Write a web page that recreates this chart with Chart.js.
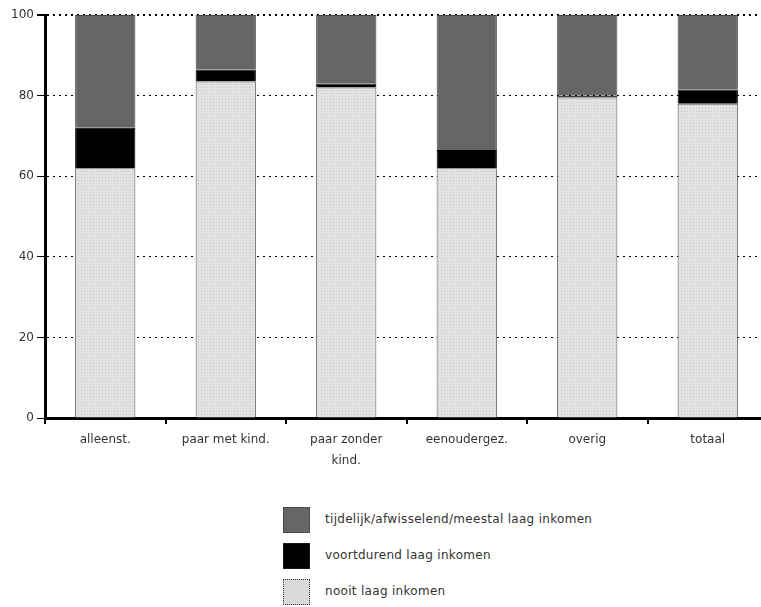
<!DOCTYPE html>
<html>
<head>
<meta charset="utf-8">
<script src="https://cdn.jsdelivr.net/npm/chart.js@4.4.1/dist/chart.umd.min.js"></script>
<style>
  html, body { margin: 0; padding: 0; background: #fff; overflow: hidden; width: 761px; height: 607px; }
  #wrap { position: absolute; left: 0; top: 0; width: 768px; height: 480px; }
  #legend { position: absolute; left: 283px; top: 507px; font-family: "DejaVu Sans", sans-serif; font-size: 12px; color: #333; }
  .row { height: 36px; position: relative; }
  .box { position: absolute; left: 0; top: 0; width: 27px; height: 26px; border: 1px dotted #333; box-sizing: border-box; }
  .txt { position: absolute; left: 42px; top: 5px; white-space: nowrap; letter-spacing: 0.3px; }
</style>
</head>
<body>
<div id="wrap"><canvas id="myChart"></canvas></div>
<div id="legend"></div>
<script>
const categories = ['alleenst.', 'paar met kind.', ['paar zonder', 'kind.'], 'eenoudergez.', 'overig', 'totaal'];
const nooit = [62, 83.5, 82, 62, 79.5, 78];
const voortdurend = [10, 3, 1, 4.5, 0.5, 3.5];
const tijdelijk = [28, 13.5, 17, 33.5, 20, 18.5];
const yTicks = [0, 20, 40, 60, 80, 100];
const seriesNames = ['nooit laag inkomen', 'voortdurend laag inkomen', 'tijdelijk/afwisselend/meestal laag inkomen'];

(() => {
    // gestippeld lichtgrijs patroon, zoals in het origineel
    const pc = document.createElement('canvas');
    pc.width = 3; pc.height = 3;
    const pctx = pc.getContext('2d');
    pctx.fillStyle = '#e2e2e2';
    pctx.fillRect(0, 0, 3, 3);
    pctx.fillStyle = '#c6c6c6';
    pctx.fillRect(0, 0, 1, 1);
    const lightPattern = document.getElementById('myChart').getContext('2d').createPattern(pc, 'repeat');

    const colors = [lightPattern, '#000000', '#666666'];
    const borders = ['#555555', '#000000', '#444444'];
    const series = [nooit, voortdurend, tijdelijk];

    const datasets = series.map((values, i) => ({
        label: seriesNames[i],
        data: values,
        backgroundColor: colors[i],
        borderColor: borders[i],
        borderWidth: 1,
        categoryPercentage: 1,
        barPercentage: 0.5
    }));

    new Chart(document.getElementById('myChart'), {
        type: 'bar',
        data: { labels: categories, datasets: datasets },
        options: {
            responsive: true,
            maintainAspectRatio: false,
            animation: false,
            layout: { padding: { top: 15, left: 0, right: 0, bottom: 0 } },
            plugins: { legend: { display: false }, tooltip: { enabled: false } },
            scales: {
                x: {
                    stacked: true,
                    afterFit: (scale) => { scale.height = 62; },
                    grid: { drawOnChartArea: false, tickLength: 6, color: '#000', lineWidth: 2 },
                    border: { color: '#000', width: 3 },
                    ticks: {
                        color: '#333',
                        padding: 6,
                        maxRotation: 0,
                        autoSkip: false,
                        font: { family: 'DejaVu Sans', size: 12, lineHeight: 1.7 }
                    }
                },
                y: {
                    stacked: true,
                    min: 0,
                    max: 100,
                    afterFit: (scale) => { scale.width = 45; },
                    afterBuildTicks: (scale) => { scale.ticks = yTicks.map(v => ({ value: v })); },
                    grid: {
                        color: '#000',
                        lineWidth: (ctx) => (ctx.tick && ctx.tick.value === 100 ? 2 : 1),
                        tickLength: 8
                    },
                    border: { color: '#000', width: 3, dash: [2, 4] },
                    ticks: {
                        color: '#333',
                        padding: 3,
                        font: { family: 'DejaVu Sans', size: 12 }
                    }
                }
            }
        }
    });

    // legenda, omgekeerde volgorde (bovenste laag eerst)
    const legend = document.getElementById('legend');
    const boxBg = ['#dadada', '#000000', '#666666'];
    for (let i = series.length - 1; i >= 0; i--) {
        legend.innerHTML += `
        <div class="row">
          <div class="box" style="background:${boxBg[i]}"></div>
          <div class="txt">${seriesNames[i]}</div>
        </div>`;
    }
})();
</script>
</body>
</html>
